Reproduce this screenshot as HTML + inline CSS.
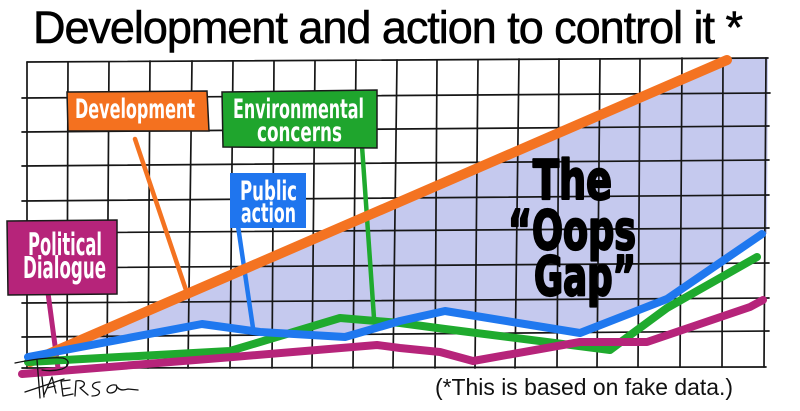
<!DOCTYPE html>
<html>
<head>
<meta charset="utf-8">
<style>
html,body{margin:0;padding:0;background:#fff;}
svg{display:block;}
</style>
</head>
<body>
<svg width="800" height="411" viewBox="0 0 800 411" xmlns="http://www.w3.org/2000/svg">
<rect width="800" height="411" fill="#fff"/>

<!-- lavender gap -->
<polygon fill="#c5c9ee" points="30,357 727,59 768,57 767,234 762,234 667,298 580,333 445,311 345,337 260,332 202,324 30,356"/>

<!-- grid -->
<g stroke="#161616" stroke-width="1.7" fill="none" stroke-linecap="round">
  <line x1="27" y1="62" x2="768" y2="58"/>
  <line x1="22" y1="98" x2="770" y2="93"/>
  <line x1="22" y1="132" x2="769" y2="126"/>
  <line x1="22" y1="166" x2="769" y2="160"/>
  <line x1="22" y1="201" x2="769" y2="195"/>
  <line x1="22" y1="233" x2="769" y2="228"/>
  <line x1="22" y1="268" x2="769" y2="263"/>
  <line x1="22" y1="303" x2="769" y2="298"/>
  <line x1="22" y1="337" x2="769" y2="331"/>
  <line x1="22" y1="368" x2="766" y2="367"/>

  <line x1="27" y1="62" x2="27" y2="368"/>
  <line x1="68" y1="62" x2="67" y2="368"/>
  <line x1="109" y1="62" x2="107" y2="368"/>
  <line x1="150" y1="61" x2="148" y2="368"/>
  <line x1="192" y1="61" x2="188" y2="368"/>
  <line x1="233" y1="61" x2="230" y2="368"/>
  <line x1="274" y1="61" x2="272" y2="368"/>
  <line x1="315" y1="61" x2="312" y2="368"/>
  <line x1="356" y1="60" x2="353" y2="368"/>
  <line x1="397" y1="60" x2="393" y2="368"/>
  <line x1="437" y1="60" x2="435" y2="368"/>
  <line x1="478" y1="60" x2="475" y2="368"/>
  <line x1="519" y1="59" x2="515" y2="368"/>
  <line x1="559" y1="59" x2="557" y2="367"/>
  <line x1="600" y1="59" x2="597" y2="367"/>
  <line x1="640" y1="59" x2="638" y2="367"/>
  <line x1="682" y1="58" x2="680" y2="367"/>
  <line x1="723" y1="58" x2="722" y2="367"/>
  <line x1="766" y1="58" x2="764" y2="367"/>
</g>

<!-- pointers -->
<g stroke-linecap="round" fill="none">
  <line x1="135" y1="139" x2="187" y2="293" stroke="#f47321" stroke-width="4.5"/>
  <line x1="362" y1="146" x2="374" y2="318" stroke="#1faa2e" stroke-width="4.5"/>
  <line x1="238" y1="226" x2="253" y2="328" stroke="#1f78ef" stroke-width="4.5"/>
  <line x1="48" y1="293" x2="58" y2="368" stroke="#b6247a" stroke-width="5"/>
</g>

<!-- series -->
<g fill="none" stroke-linecap="round" stroke-linejoin="round">
  <polyline stroke="#f47321" stroke-width="10" points="30,362 727,60"/>
  <polyline stroke="#1faa2e" stroke-width="8" points="28,362 230,351 340,318 400,323 445,329 610,350 667,308 757,257"/>
  <polyline stroke="#1f78ef" stroke-width="8" points="28,357 202,324 260,332 345,337 400,321 445,311 580,333 667,299 762,234"/>
  <polyline stroke="#b6247a" stroke-width="8" points="22,374 233,357 377,345 400,348 440,352 473,361 580,342 647,342 750,307 763,300"/>
</g>

<!-- label boxes -->
<g stroke="#1a1a1a" stroke-width="1.5">
  <polygon fill="#f4711f" points="67,92 207,91 209,131 68,131"/>
  <polygon fill="#1fa52d" points="222,92 377,90 377,148 223,147"/>
  <polygon fill="#b6247a" points="7,221 117,220 117,294 8,295"/>
</g>
<rect x="230" y="173" width="76" height="55" fill="#1f75ee"/>

<g fill="#fff" font-family="'Liberation Sans Narrow','DejaVu Sans Condensed','Liberation Sans',sans-serif" font-weight="bold" font-size="27">
  <text x="75" y="118" textLength="120" lengthAdjust="spacingAndGlyphs">Development</text>
  <text x="233" y="118" textLength="131" lengthAdjust="spacingAndGlyphs">Environmental</text>
  <text x="257" y="141" textLength="85" lengthAdjust="spacingAndGlyphs">concerns</text>
  <text x="240" y="200" textLength="57" lengthAdjust="spacingAndGlyphs">Public</text>
  <text x="241" y="222" textLength="55" lengthAdjust="spacingAndGlyphs">action</text>
  <text x="28" y="255" font-size="31" textLength="74" lengthAdjust="spacingAndGlyphs">Political</text>
  <text x="23" y="278" font-size="30" textLength="83" lengthAdjust="spacingAndGlyphs">Dialogue</text>
</g>

<!-- Oops gap -->
<g fill="#000" stroke="#000" stroke-width="2.2" stroke-linejoin="round" font-family="'Liberation Sans Narrow','DejaVu Sans Condensed','Liberation Sans',sans-serif" font-weight="bold" font-size="54">
  <text x="533" y="199" textLength="79" lengthAdjust="spacingAndGlyphs">The</text>
  <text x="508" y="249" textLength="128" lengthAdjust="spacingAndGlyphs">“Oops</text>
  <text x="534" y="295" textLength="102" lengthAdjust="spacingAndGlyphs">Gap”</text>
</g>

<!-- title -->
<text x="33" y="43" font-family="'Liberation Sans',sans-serif" font-size="45" fill="#000" stroke="#000" stroke-width="0.6" textLength="710" lengthAdjust="spacing">Development and action to control it *</text>

<!-- footnote -->
<text x="435" y="395" font-family="'Liberation Sans',sans-serif" font-size="23" fill="#111" textLength="298" lengthAdjust="spacingAndGlyphs">(*This is based on fake data.)</text>

<!-- signature scribble -->
<g fill="none" stroke="#111" stroke-width="1.3" stroke-linecap="round" stroke-linejoin="round">
  <path d="M15,363 C30,360 50,357 63,358 C70,360 70,366 62,369 C55,371 48,371 42,370"/>
  <path d="M37,360 L40,398"/>
  <path d="M42,377 L44,397"/>
  <path d="M25,392 L64,379"/>
  <path d="M44,395 L52,377 L56,393 M47,388 L55,386"/>
  <path d="M62,381 L70,380 M61,381 L63,396 L73,394 M62,389 L70,388"/>
  <path d="M75,396 L76,381 C84,379 88,385 80,388 L88,395"/>
  <path d="M100,382 C92,382 90,387 96,389 C102,391 100,396 92,396"/>
  <path d="M115,385 C108,384 104,392 110,393 C116,393 118,388 116,385 C118,390 122,391 128,389 L138,390"/>
</g>
</svg>
</body>
</html>
